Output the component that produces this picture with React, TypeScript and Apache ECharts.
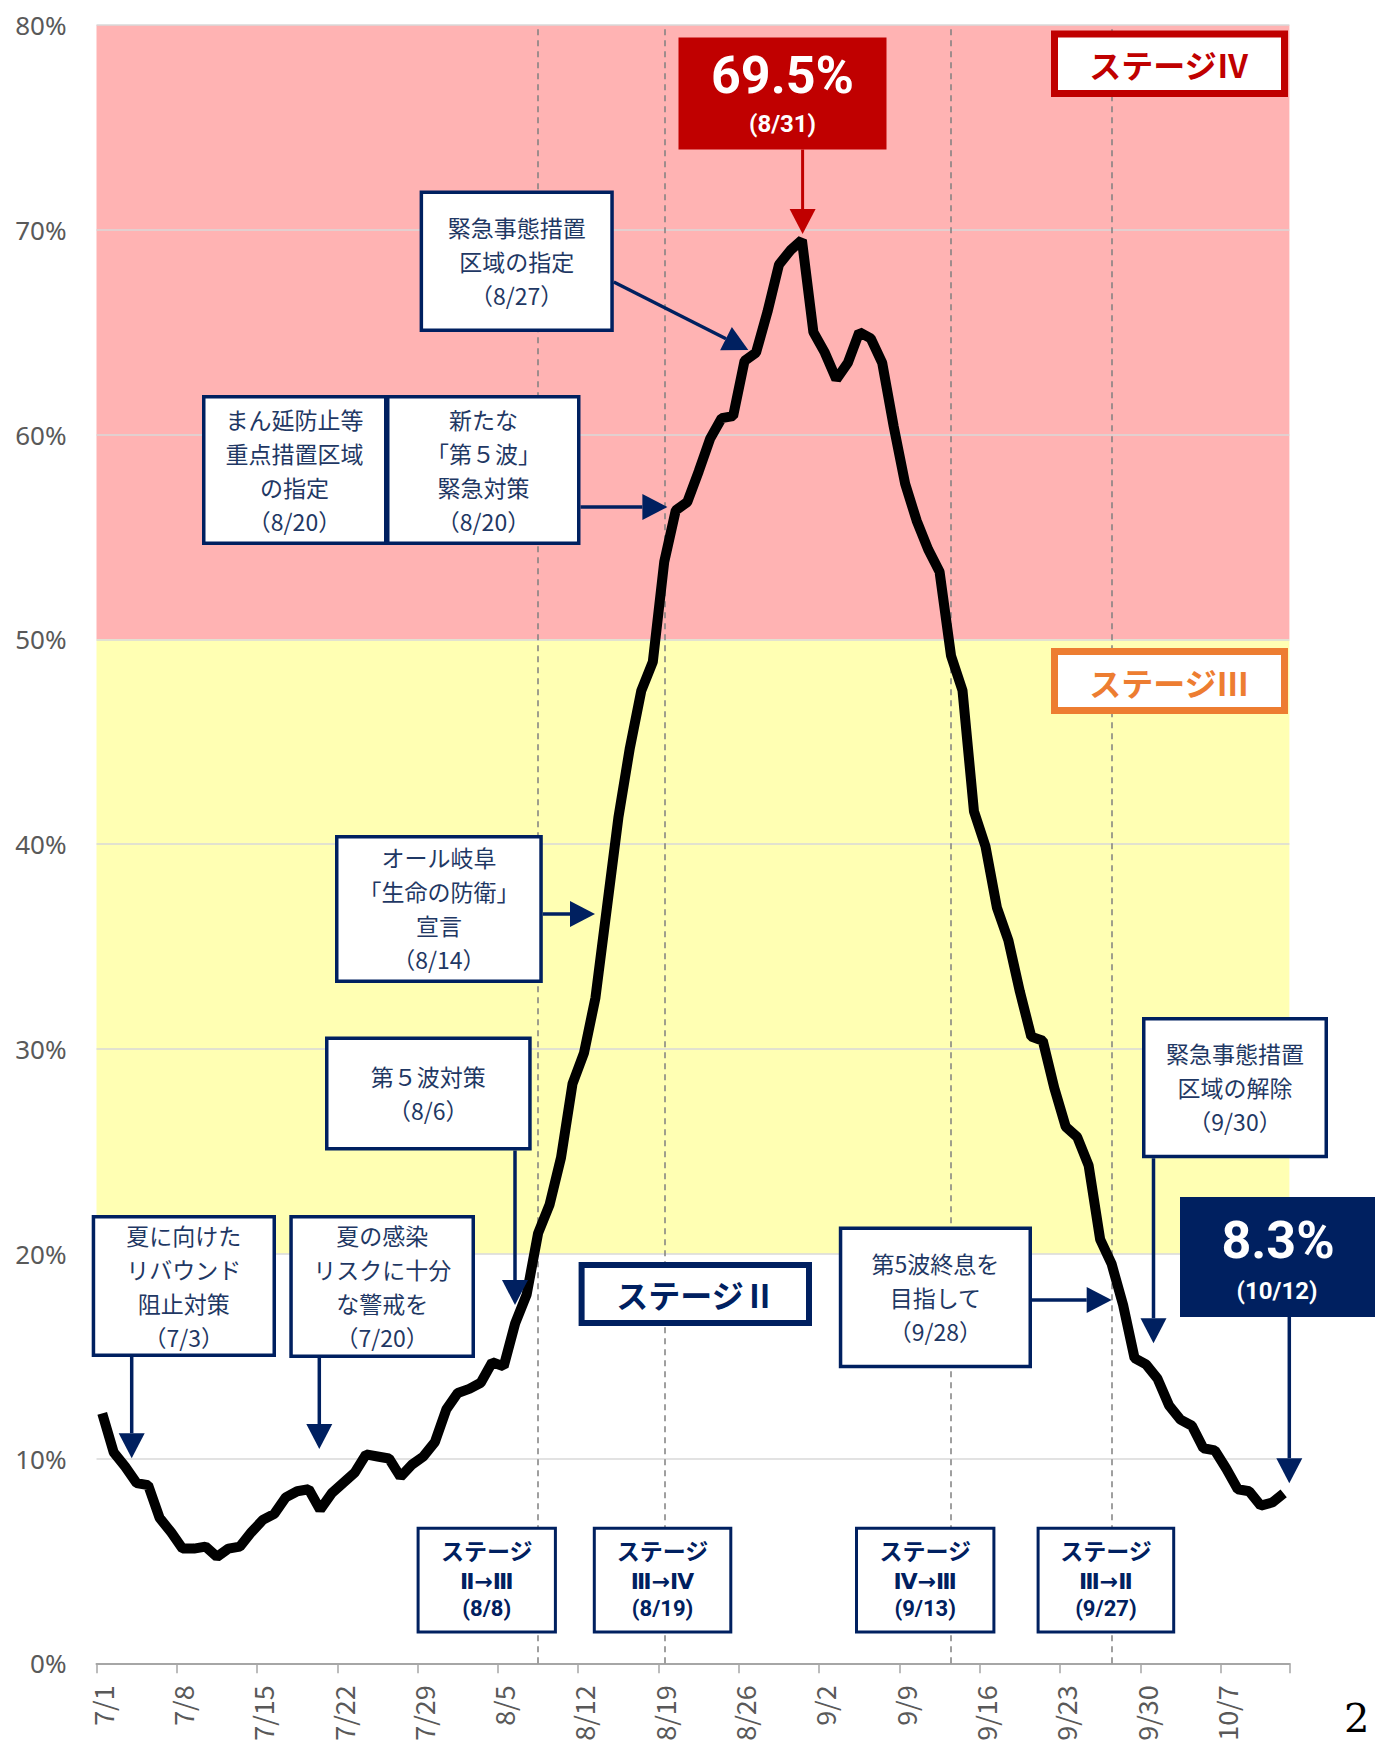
import React, { useEffect, useRef } from "react";
import * as echarts from "echarts";

// ---------- data ----------
const categories = [
  "7/1","7/2","7/3","7/4","7/5","7/6","7/7","7/8","7/9","7/10","7/11","7/12","7/13","7/14","7/15","7/16",
  "7/17","7/18","7/19","7/20","7/21","7/22","7/23","7/24","7/25","7/26","7/27","7/28","7/29","7/30","7/31",
  "8/1","8/2","8/3","8/4","8/5","8/6","8/7","8/8","8/9","8/10","8/11","8/12","8/13","8/14","8/15","8/16",
  "8/17","8/18","8/19","8/20","8/21","8/22","8/23","8/24","8/25","8/26","8/27","8/28","8/29","8/30","8/31",
  "9/1","9/2","9/3","9/4","9/5","9/6","9/7","9/8","9/9","9/10","9/11","9/12","9/13","9/14","9/15","9/16",
  "9/17","9/18","9/19","9/20","9/21","9/22","9/23","9/24","9/25","9/26","9/27","9/28","9/29","9/30",
  "10/1","10/2","10/3","10/4","10/5","10/6","10/7","10/8","10/9","10/10","10/11","10/12",
];

const rateJul = [12.2, 10.3, 9.6, 8.8, 8.7, 7.1, 6.4, 5.6, 5.6, 5.7, 5.2, 5.6, 5.7, 6.4, 7.0, 7.3,
  8.1, 8.4, 8.5, 7.5, 8.3, 8.8, 9.3, 10.2, 10.1, 10.0, 9.1, 9.7, 10.1, 10.8, 12.4];
const rateAug = [13.2, 13.4, 13.7, 14.7, 14.5, 16.6, 18.0, 21.0, 22.4, 24.7, 28.3, 29.8, 32.5, 36.9, 41.3, 44.7,
  47.5, 48.9, 53.8, 56.3, 56.7, 58.2, 59.8, 60.8, 60.9, 63.6, 64.0, 66.0, 68.3, 69.0, 69.5];
const rateSep = [65.0, 64.0, 62.7, 63.5, 65.0, 64.7, 63.5, 60.4, 57.6, 55.8, 54.4, 53.3, 49.2, 47.5, 41.6,
  39.9, 36.9, 35.3, 32.8, 30.6, 30.4, 28.1, 26.2, 25.7, 24.3, 20.7, 19.5, 17.5, 14.9, 14.6];
const rateOct = [13.9, 12.6, 11.9, 11.6, 10.5, 10.4, 9.5, 8.5, 8.4, 7.7, 7.85, 8.3];

const occupancy = [...rateJul, ...rateAug, ...rateSep, ...rateOct];

const stageChangeDates = ["8/8", "8/19", "9/13", "9/27"];
const stage4Band = [50, 80];
const stage3Band = [20, 50];
const yMin = 0;
const yMax = 80;
const yStep = 10;

// ---------- styles ----------
const FONT = "'Noto Sans CJK JP', 'Noto Sans', sans-serif";
const LATIN = "Roboto, 'Noto Sans', sans-serif";
const SYMBOL = "'DejaVu Sans', 'Noto Sans CJK JP', sans-serif";
const NAVY = "#002060";
const NAVY_TEXT = "#1f3864";
const RED = "#c00000";
const ORANGE = "#ed7d31";

type El = any;

function frame(x1: number, y1: number, x2: number, y2: number, lw: number, stroke: string | null, fill: string): El {
  const h = lw / 2;
  return {
    type: "rect",
    z: 100,
    shape: { x: x1 + h, y: y1 + h, width: x2 - x1 - lw, height: y2 - y1 - lw },
    style: { fill, stroke: stroke || undefined, lineWidth: stroke ? lw : 0 },
  };
}

function txt(cx: number, cy: number, text: string, size: number, color: string, weight: string | number = "normal", lh?: number, family: string = FONT): El {
  return {
    type: "text",
    z: 101,
    x: cx,
    y: cy,
    style: {
      text,
      fill: color,
      fontSize: size,
      fontFamily: family,
      fontWeight: weight,
      lineHeight: lh || Math.ceil(size * 1.25),
      align: "center",
      verticalAlign: "middle",
    },
  };
}

function arrow(x1: number, y1: number, x2: number, y2: number, color: string, lw: number, headL = 25, headW = 13): El[] {
  const dx = x2 - x1;
  const dy = y2 - y1;
  const len = Math.sqrt(dx * dx + dy * dy);
  const ux = dx / len;
  const uy = dy / len;
  const bx = x2 - ux * headL;
  const by = y2 - uy * headL;
  const nx = -uy;
  const ny = ux;
  return [
    { type: "line", z: 100, shape: { x1, y1, x2: bx, y2: by }, style: { stroke: color, lineWidth: lw } },
    {
      type: "polygon",
      z: 100,
      shape: { points: [[x2, y2], [bx + nx * headW, by + ny * headW], [bx - nx * headW, by - ny * headW]] },
      style: { fill: color },
    },
  ];
}

function buildGraphics(): El[] {
  const els: El[] = [];
  const note = 23;
  const noteLh = 34;

  // peak callout
  els.push(frame(678.5, 37.5, 886.5, 149.5, 0, null, RED));
  els.push(txt(782.5, 75, "69.5%", 52, "#ffffff", "bold", 62, LATIN));
  els.push(txt(782.5, 124, "(8/31)", 24, "#ffffff", "bold", 30, LATIN));
  els.push(...arrow(802.6, 149.5, 802.6, 234, RED, 3));

  // stage labels
  els.push(frame(1051, 30.5, 1288, 97, 7, RED, "#ffffff"));
  els.push(txt(1169, 64, "ステージⅣ", 32, RED, "bold"));
  els.push(frame(1051, 648, 1288, 714, 7, ORANGE, "#ffffff"));
  els.push(txt(1169, 682, "ステージⅢ", 32, ORANGE, "bold"));
  els.push(frame(578.6, 1262, 812, 1326, 6, NAVY, "#ffffff"));
  els.push(txt(696, 1294, "ステージⅡ", 32, NAVY, "bold"));

  // policy notes
  els.push(frame(202, 395, 387.5, 545, 3.5, NAVY, "#ffffff"));
  els.push(txt(294.5, 470, "まん延防止等\n重点措置区域\nの指定\n（8/20）", note, NAVY_TEXT, "normal", noteLh));
  els.push(frame(386, 395, 580.5, 545, 3.5, NAVY, "#ffffff"));
  els.push(txt(483.5, 470, "新たな\n「第５波」\n緊急対策\n（8/20）", note, NAVY_TEXT, "normal", noteLh));
  els.push(...arrow(580.5, 507, 667.4, 507, NAVY, 3.5));

  els.push(frame(419.6, 190.4, 613.8, 332.1, 3.5, NAVY, "#ffffff"));
  els.push(txt(516.7, 261, "緊急事態措置\n区域の指定\n（8/27）", note, NAVY_TEXT, "normal", noteLh));
  els.push(...arrow(613.8, 282, 748.3, 350, NAVY, 3.5));

  els.push(frame(335, 835, 542.8, 983, 3.5, NAVY, "#ffffff"));
  els.push(txt(438.9, 908, "オール岐阜\n「生命の防衛」\n宣言\n（8/14）", note, NAVY_TEXT, "normal", noteLh));
  els.push(...arrow(542.8, 914, 595, 914, NAVY, 3.5));

  els.push(frame(325, 1036.5, 531.7, 1150.5, 3.5, NAVY, "#ffffff"));
  els.push(txt(428.3, 1093, "第５波対策\n（8/6）", note, NAVY_TEXT, "normal", noteLh));
  els.push(...arrow(515, 1150.5, 515, 1305, NAVY, 3.5));

  els.push(frame(91.7, 1215, 276, 1357, 3.5, NAVY, "#ffffff"));
  els.push(txt(183.8, 1286, "夏に向けた\nリバウンド\n阻止対策\n（7/3）", note, NAVY_TEXT, "normal", noteLh));
  els.push(...arrow(131.7, 1357, 131.7, 1458.3, NAVY, 3.5));

  els.push(frame(289.3, 1215, 475, 1358, 3.5, NAVY, "#ffffff"));
  els.push(txt(382.2, 1286, "夏の感染\nリスクに十分\nな警戒を\n（7/20）", note, NAVY_TEXT, "normal", noteLh));
  els.push(...arrow(319.3, 1358, 319.3, 1449, NAVY, 3.5));

  els.push(frame(838.8, 1226.4, 1032, 1368.3, 3.5, NAVY, "#ffffff"));
  els.push(txt(935.4, 1296.5, "第5波終息を\n目指して\n（9/28）", note, NAVY_TEXT, "normal", noteLh));
  els.push(...arrow(1032, 1300, 1111.7, 1300, NAVY, 3.5));

  els.push(frame(1142, 1017, 1328, 1158.3, 3.5, NAVY, "#ffffff"));
  els.push(txt(1235, 1087, "緊急事態措置\n区域の解除\n（9/30）", note, NAVY_TEXT, "normal", noteLh));
  els.push(...arrow(1153.5, 1158.3, 1153.5, 1343.3, NAVY, 3.5));

  // latest value callout
  els.push(frame(1180, 1197, 1380, 1317, 0, null, NAVY));
  els.push(txt(1278, 1240, "8.3%", 52, "#ffffff", "bold", 62, LATIN));
  els.push(txt(1277, 1291, "(10/12)", 24, "#ffffff", "bold", 30, LATIN));
  els.push(...arrow(1289.3, 1317, 1289.3, 1483.3, NAVY, 3.5));

  // stage transition boxes
  const transitions: [number, number, string, string][] = [
    [416.6, 556.9, "Ⅱ→Ⅲ", "(8/8)"],
    [592.8, 732.3, "Ⅲ→Ⅳ", "(8/19)"],
    [855, 995.4, "Ⅳ→Ⅲ", "(9/13)"],
    [1036.6, 1175.2, "Ⅲ→Ⅱ", "(9/27)"],
  ];
  transitions.forEach(([x1, x2, arrowText, date]) => {
    const cx = (x1 + x2) / 2;
    els.push(frame(x1, 1526.7, x2, 1633.5, 3, NAVY, "#ffffff"));
    els.push(txt(cx, 1550, "ステージ", 23, NAVY, "bold", 32));
    els.push(txt(cx, 1581, arrowText, 22, NAVY, "bold", 26, SYMBOL));
    els.push(txt(cx, 1608, date, 22, NAVY, "bold", 26, LATIN));
  });

  // page number at the lower-right corner of the slide
  els.push({
    type: "text",
    z: 101,
    x: 1344,
    y: 1718,
    style: { text: "2", fill: "#000000", fontSize: 40, fontFamily: "'DejaVu Serif', serif", align: "left", verticalAlign: "middle" },
  });

  return els;
}

export default function App() {
  const ref = useRef<HTMLDivElement>(null);

  useEffect(() => {
    if (!ref.current) return;
    const chart = echarts.init(ref.current, undefined, { renderer: "svg" });
    const option: any = {
      animation: false,
      backgroundColor: "#ffffff",
      grid: { left: 96.5, right: 85.6, top: 25, bottom: 88.7, containLabel: false },
      xAxis: {
        type: "category",
        data: categories,
        boundaryGap: true,
        axisLine: { show: true, lineStyle: { color: "#a6a6a6", width: 2 } },
        axisTick: { show: true, interval: 6, length: 10, lineStyle: { color: "#a6a6a6", width: 1.5 } },
        axisLabel: { interval: 6, rotate: 90, margin: 22, color: "#595959", fontSize: 27, fontFamily: FONT },
        splitLine: { show: false },
      },
      yAxis: {
        type: "value",
        min: yMin,
        max: yMax,
        interval: yStep,
        axisLine: { show: false },
        axisTick: { show: false },
        axisLabel: { formatter: "{value}%", color: "#595959", fontSize: 26, margin: 30, fontFamily: "'Noto Sans', sans-serif" },
        splitLine: { show: true, lineStyle: { color: "#d9d9d9", width: 1.5 } },
      },
      series: [
        {
          type: "line",
          data: occupancy,
          symbol: "none",
          z: 5,
          lineStyle: { color: "#000000", width: 10 },
          markArea: {
            silent: true,
            z: -1,
            label: { show: false },
            data: [
              [{ yAxis: stage4Band[0], itemStyle: { color: "#ffb3b3", opacity: 1 } }, { yAxis: stage4Band[1] }],
              [{ yAxis: stage3Band[0], itemStyle: { color: "#ffffb3", opacity: 1 } }, { yAxis: stage3Band[1] }],
            ],
          },
          markLine: {
            silent: true,
            symbol: "none",
            z: 3,
            label: { show: false },
            lineStyle: { type: [6, 5], color: "#808080", width: 1.5 },
            data: stageChangeDates.map((d) => ({ xAxis: d })),
          },
        },
      ],
      graphic: { elements: buildGraphics() },
    };
    chart.setOption(option);
    return () => chart.dispose();
  }, []);

  return (
    <div
      ref={ref}
      style={{ position: "absolute", left: 0, top: 0, width: 1375, height: 1752, background: "#ffffff" }}
    />
  );
}
